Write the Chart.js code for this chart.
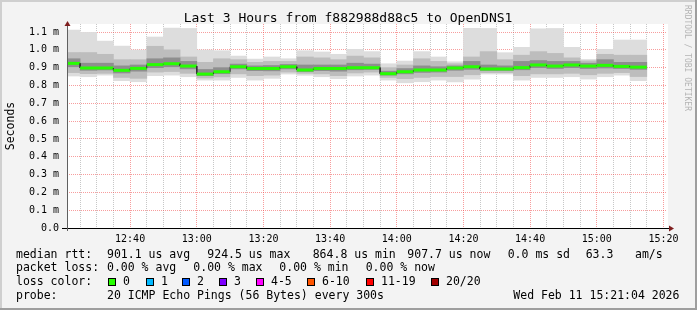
<!DOCTYPE html>
<html>
<head>
<meta charset="utf-8">
<script src="https://cdn.jsdelivr.net/npm/chart.js@4.4.1/dist/chart.umd.min.js"></script>
<style>
  html, body { margin: 0; padding: 0; background: #f3f3f3; }
  canvas { display: block; }
</style>
</head>
<body>
<canvas id="smoke" width="697" height="310"></canvas>
<script>
// 5 minute bins (start time of each bin)
const binStart = ['12:20','12:25','12:30','12:35','12:40','12:45','12:50','12:55',
  '13:00','13:05','13:10','13:15','13:20','13:25','13:30','13:35','13:40','13:45','13:50','13:55',
  '14:00','14:05','14:10','14:15','14:20','14:25','14:30','14:35','14:40','14:45','14:50','14:55',
  '15:00','15:05','15:10'];

// ping rtt distribution per bin, in ms
const pingMin   = [0.853,0.849,0.858,0.827,0.821,0.855,0.858,0.849,0.830,0.830,0.845,0.830,
  0.840,0.864,0.857,0.849,0.838,0.853,0.858,0.830,0.815,0.821,0.830,0.820,0.836,0.864,0.864,0.830,
  0.845,0.845,0.849,0.836,0.849,0.858,0.827];
const pingLo    = [0.872,0.866,0.868,0.845,0.840,0.875,0.878,0.868,0.842,0.848,0.865,0.855,
  0.858,0.875,0.868,0.865,0.855,0.870,0.875,0.845,0.838,0.845,0.850,0.850,0.860,0.872,0.872,0.855,
  0.865,0.865,0.868,0.860,0.868,0.872,0.850];
const pingMidLo = [0.905,0.885,0.887,0.870,0.880,0.900,0.905,0.893,0.855,0.866,0.893,0.883,
  0.882,0.893,0.878,0.883,0.880,0.888,0.890,0.858,0.865,0.873,0.875,0.885,0.890,0.884,0.884,0.888,
  0.900,0.895,0.900,0.895,0.898,0.895,0.890];
const median    = [0.924,0.898,0.898,0.885,0.896,0.917,0.922,0.909,0.864,0.877,0.905,0.895,
  0.895,0.905,0.887,0.895,0.895,0.900,0.900,0.866,0.877,0.887,0.887,0.898,0.905,0.892,0.892,0.900,
  0.915,0.909,0.915,0.909,0.913,0.907,0.903];
const pingMidHi = [0.950,0.925,0.925,0.910,0.915,0.950,0.955,0.935,0.890,0.900,0.920,0.910,
  0.912,0.918,0.915,0.915,0.915,0.925,0.920,0.880,0.895,0.910,0.905,0.910,0.935,0.915,0.910,0.935,
  0.940,0.935,0.935,0.925,0.945,0.930,0.930];
const pingHi    = [0.985,0.985,0.975,0.945,0.945,1.020,1.000,0.960,0.930,0.950,0.945,0.930,
  0.935,0.935,0.960,0.955,0.945,0.965,0.955,0.900,0.915,0.950,0.935,0.922,0.960,0.990,0.945,0.970,
  0.990,0.980,0.955,0.938,0.975,0.970,0.970];
const pingMax   = [1.111,1.098,1.049,1.021,0.999,1.072,1.122,1.120,0.999,0.995,0.965,0.948,
  0.960,0.950,0.995,0.988,0.975,1.003,0.990,0.922,0.937,0.990,0.960,0.933,1.120,1.120,0.984,1.014,
  1.118,1.120,1.014,0.946,1.003,1.055,1.055];

// axes
const yTicks = [0,0.1,0.2,0.3,0.4,0.5,0.6,0.7,0.8,0.9,1.0,1.1];
const xLabels = ['12:40','13:00','13:20','13:40','14:00','14:20','14:40','15:00','15:20'];
const windowStart = '12:21:04';
const windowEnd = '15:21:04';

// legend
const lossLabels = ['0','1','2','3','4-5','6-10','11-19','20/20'];
const lossColors = ['#26ff00','#00b8ff','#0059ff','#7e00ff','#ff00ff','#ff5500','#ff0000','#a10000'];

const STEP = 5;
const MONO = '"DejaVu Sans Mono", monospace';
const MAJOR = 'rgba(240,60,60,0.5)';
const MINOR = 'rgba(0,0,0,0.22)';

const toMin = s => {
  const p = s.split(':').map(Number);
  return p[0] * 60 + p[1] + (p[2] || 0) / 60;
};
const fmt = v => {
  const h = Math.floor(v / 60), m = Math.round(v - h * 60);
  return String(h).padStart(2, '0') + ':' + String(m).padStart(2, '0');
};

const centers = binStart.map(s => toMin(s) + STEP / 2);
const band = (lo, hi) => centers.map((x, i) => ({ x: x, y: [lo[i], hi[i]] }));

// median as steps: one point at each edge of the bin
const medianPts = [];
binStart.forEach((s, i) => {
  medianPts.push({ x: toMin(s), y: median[i] });
  medianPts.push({ x: toMin(s) + STEP, y: median[i] });
});

const smoke = (label, lo, hi, color, order) => ({
  type: 'bar',
  label: label,
  data: band(lo, hi),
  backgroundColor: color,
  borderWidth: 0,
  barPercentage: 1,
  categoryPercentage: 1,
  grouped: false,
  clip: 0,
  order: order
});

const isJump = c => c.p0.parsed.y !== c.p1.parsed.y;

const decor = {
  id: 'decor',
  beforeDraw(chart) {
    const { ctx, chartArea: a } = chart;
    ctx.save();
    ctx.fillStyle = '#f3f3f3';
    ctx.fillRect(0, 0, chart.width, chart.height);
    ctx.fillStyle = '#ffffff';
    ctx.fillRect(a.left, a.top, a.right - a.left + 1, a.bottom - a.top);
    ctx.restore();
  },
  afterDraw(chart) {
    const { ctx, chartArea: a } = chart;
    ctx.save();

    // axes
    ctx.lineWidth = 1;
    ctx.strokeStyle = '#000000';
    ctx.beginPath();
    ctx.moveTo(62, a.bottom + 0.5);
    ctx.lineTo(a.right + 3, a.bottom + 0.5);
    ctx.stroke();
    ctx.strokeStyle = '#606060';
    ctx.beginPath();
    ctx.moveTo(a.left + 0.5, a.bottom + 3);
    ctx.lineTo(a.left + 0.5, a.top - 2);
    ctx.stroke();

    ctx.fillStyle = '#7f1f1f';
    ctx.beginPath();
    ctx.moveTo(a.right + 2, a.bottom - 2.5);
    ctx.lineTo(a.right + 7, a.bottom + 0.5);
    ctx.lineTo(a.right + 2, a.bottom + 3.5);
    ctx.closePath();
    ctx.fill();
    ctx.beginPath();
    ctx.moveTo(a.left - 2.5, a.top + 2);
    ctx.lineTo(a.left + 0.5, a.top - 3);
    ctx.lineTo(a.left + 3.5, a.top + 2);
    ctx.closePath();
    ctx.fill();

    // title
    ctx.fillStyle = '#000000';
    ctx.textBaseline = 'middle';
    ctx.textAlign = 'center';
    ctx.font = '13px ' + MONO;
    ctx.fillText('Last 3 Hours from f882988d88c5 to OpenDNS1', 348, 19);

    // y title
    ctx.font = '11.5px ' + MONO;
    ctx.save();
    ctx.translate(11, 126);
    ctx.rotate(-Math.PI / 2);
    ctx.fillText('Seconds', 0, 0);
    ctx.restore();

    // watermark
    ctx.save();
    ctx.fillStyle = '#b4b4b4';
    ctx.font = '8px ' + MONO;
    ctx.textAlign = 'left';
    ctx.translate(687, 5);
    ctx.rotate(Math.PI / 2);
    ctx.fillText('RRDTOOL / TOBI OETIKER', 0, 0);
    ctx.restore();

    // legend
    ctx.textAlign = 'left';
    ctx.font = '11.5px ' + MONO;
    const rows = [
      [255, [['median rtt:', 16], ['901.1 us avg', 107], ['924.5 us max', 207.3], ['864.8 us min', 312.7],
             ['907.7 us now', 407.3], ['0.0 ms sd', 507.7], ['63.3', 585.7], ['am/s', 635]]],
      [268.5, [['packet loss:', 16], ['0.00 % avg', 107], ['0.00 % max', 193.3], ['0.00 % min', 279.3],
               ['0.00 % now', 365.7]]],
      [282, [['loss color:', 16]]],
      [296, [['probe:', 16], ['20 ICMP Echo Pings (56 Bytes) every 300s', 107],
             ['Wed Feb 11 15:21:04 2026', 513.3]]]
    ];
    rows.forEach(r => r[1].forEach(t => ctx.fillText(t[0], t[1], r[0])));

    const boxX = [108, 145.7, 182, 219, 255.7, 307.3, 365.7, 431];
    lossLabels.forEach((l, i) => {
      const bx = Math.round(boxX[i]);
      ctx.fillStyle = lossColors[i];
      ctx.fillRect(bx, 278, 8, 8);
      ctx.strokeStyle = '#000000';
      ctx.strokeRect(bx + 0.5, 278.5, 7, 7);
      ctx.fillStyle = '#000000';
      ctx.fillText(l, bx + 15, 282);
    });

    // frame
    ctx.fillStyle = '#cfcfcf';
    ctx.fillRect(0, 0, chart.width, 2);
    ctx.fillRect(0, 0, 2, chart.height);
    ctx.fillStyle = '#9e9e9e';
    ctx.fillRect(0, chart.height - 2, chart.width, 2);
    ctx.fillRect(chart.width - 2, 0, 2, chart.height);
    ctx.restore();
  }
};

const minorTicks = [];
for (let t = toMin('12:25'); t <= toMin('15:20'); t += STEP) minorTicks.push(t);

new Chart(document.getElementById('smoke').getContext('2d'), {
  type: 'bar',
  data: {
    datasets: [
      {
        type: 'line',
        label: 'median rtt',
        data: medianPts,
        borderColor: '#26ff00',
        borderWidth: 3,
        pointRadius: 0,
        tension: 0,
        clip: 0,
        order: 0,
        segment: {
          borderColor: c => isJump(c) ? '#303030' : undefined,
          borderWidth: c => isJump(c) ? 1 : undefined
        }
      },
      smoke('inner', pingMidLo, pingMidHi, '#8e8e8e', 1),
      smoke('middle', pingLo, pingHi, '#bdbdbd', 2),
      smoke('outer', pingMin, pingMax, '#dddddd', 3)
    ]
  },
  options: {
    responsive: false,
    animation: false,
    events: [],
    layout: { padding: { top: 24, right: 30, left: 0, bottom: 0 } },
    plugins: { legend: { display: false }, tooltip: { enabled: false } },
    scales: {
      x: {
        type: 'linear',
        min: toMin(windowStart),
        max: toMin(windowEnd),
        offset: false,
        z: 1,
        afterFit: s => { s.height = 82; },
        afterBuildTicks: s => { s.ticks = minorTicks.map(v => ({ value: v })); },
        border: { display: false, dash: [1, 1] },
        grid: {
          offset: false,
          drawTicks: false,
          color: c => xLabels.includes(fmt(c.tick.value)) ? MAJOR : MINOR
        },
        ticks: {
          autoSkip: false,
          maxRotation: 0,
          padding: 5,
          color: '#000000',
          font: { family: MONO, size: 10 },
          callback: v => xLabels.includes(fmt(v)) ? fmt(v) : ''
        }
      },
      y: {
        min: 0,
        max: 1.145,
        z: 1,
        afterFit: s => { s.width = 67; },
        afterBuildTicks: s => { s.ticks = yTicks.map(v => ({ value: v })); },
        border: { display: false, dash: [1, 1] },
        grid: {
          drawTicks: false,
          color: MAJOR
        },
        ticks: {
          padding: 8,
          color: '#000000',
          font: { family: MONO, size: 10 },
          callback: v => v === 0 ? '0.0' : v.toFixed(1) + ' m'
        }
      }
    }
  },
  plugins: [decor]
});
</script>
</body>
</html>
